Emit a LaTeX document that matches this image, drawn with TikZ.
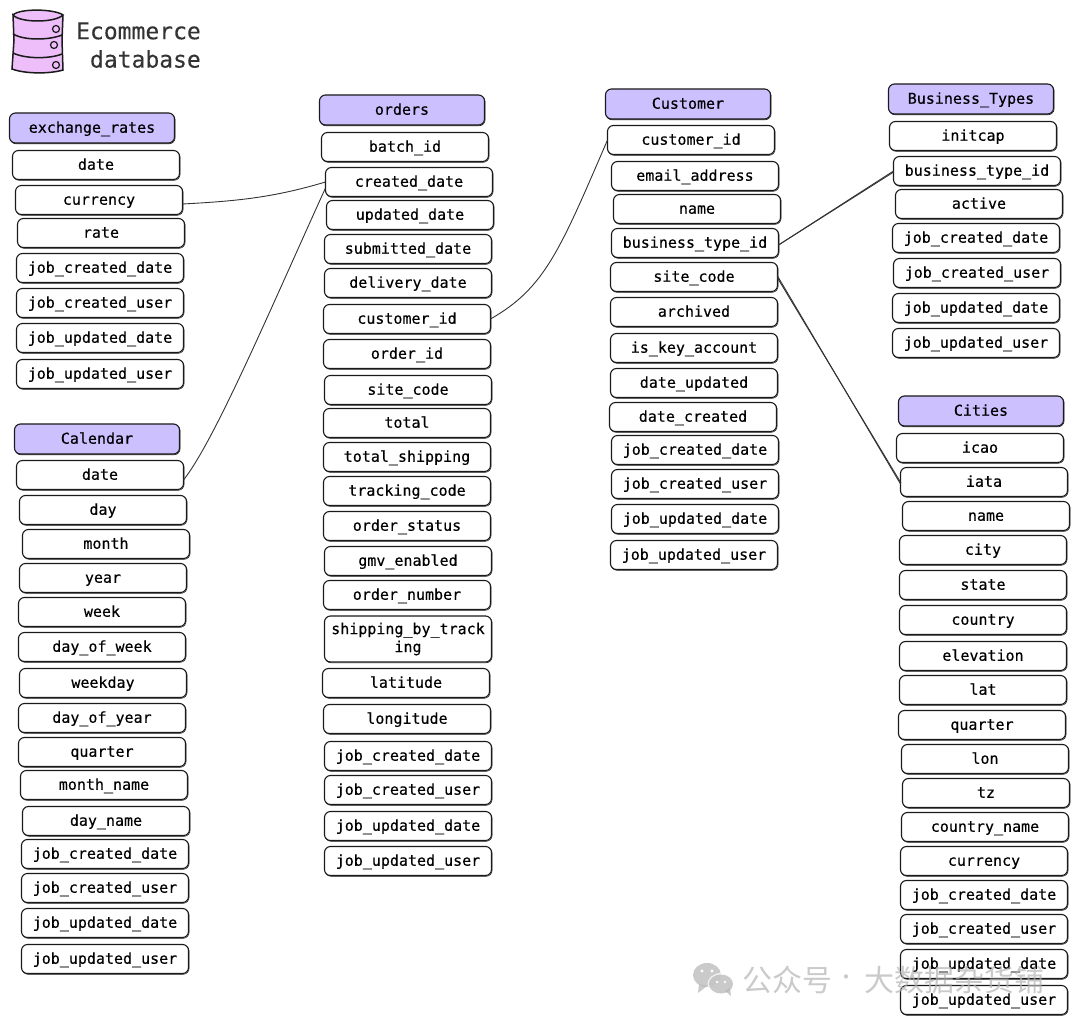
\documentclass[tikz,border=0pt]{standalone}
\usepackage{fontspec}
\setmonofont{DejaVu Sans Mono}
\newfontfamily\rowfont[FakeBold=0.35]{DejaVu Sans Mono}
\newfontfamily\titlefont[FakeBold=0.25]{DejaVu Sans Mono}
\newfontfamily\cjkwm{Noto Sans CJK SC}
\definecolor{hdrfill}{HTML}{CDC0FF}
\definecolor{dbfill}{HTML}{EDBEFA}
\definecolor{inkc}{HTML}{1A1A1A}
\definecolor{linkc}{HTML}{333333}
\definecolor{wmc}{HTML}{B4B4B4}
\tikzset{
  sketch/.style={draw=inkc,line width=1.1pt,rounded corners=6pt,
    preaction={draw=inkc,line width=.6pt,transform canvas={shift={(.6pt,-.8pt)}}}},
  row/.style={sketch,fill=white,minimum width=167pt,minimum height=29pt,inner sep=0pt,outer sep=0pt,
    align=center,text=black,text height=11.5pt,text depth=2pt,font=\rowfont\fontsize{15}{18}\selectfont},
  tallrow/.style={row,minimum height=46pt,text height=,text depth=},
  hdr/.style={row,fill=hdrfill,minimum width=165pt,minimum height=30pt},
  titletext/.style={inner sep=0pt,text=linkc,anchor=east,font=\titlefont\fontsize{23}{28}\selectfont},
  link/.style={draw=linkc,line width=.9pt},
  dbline/.style={draw=inkc,line width=1.5pt},
  wm/.style={inner sep=0pt,text=wmc,text opacity=.7,font=\cjkwm\fontsize{30}{34}\selectfont}
}
\begin{document}
\begin{tikzpicture}[x=1pt,y=-1pt]
\useasboundingbox (0,0) rectangle (1080,1024);
% database icon
\path[fill=dbfill] (13,16) .. controls (20,9) and (55,9) .. (62,16) -- (62,70) .. controls (50,74) and (25,74) .. (13,69) -- cycle;
\draw[dbline] (13,15) .. controls (20,8) and (55,9) .. (63,15) .. controls (55,23) and (20,23) .. (13,15) -- (14,40) -- (12,69) .. controls (25,74) and (50,74) .. (63,70) -- (62,40) -- (63,15);
\draw[dbline] (13,34) .. controls (25,41) and (50,40) .. (62,35);
\draw[dbline] (13,53) .. controls (25,59) and (50,59) .. (62,54);
\draw[draw=inkc,line width=1.2pt] (56,29) circle (3.5) (54,45) circle (3.5) (56,65) circle (3.5);
\node[titletext] (title1) at (201,31) {Ecommerce};
\node[titletext] (title2) at (201,59) {database};
% exchange_rates
\node[hdr] (erh) at (92,128) {exchange\_rates};
\node[row] (er1) at (96,165) {date};
\node[row] (er2) at (99,200) {currency};
\node[row] (er3) at (101,233) {rate};
\node[row] (er4) at (100,268) {job\_created\_date};
\node[row] (er5) at (100,303) {job\_created\_user};
\node[row] (er6) at (100,338) {job\_updated\_date};
\node[row] (er7) at (100,374) {job\_updated\_user};
% Calendar
\node[hdr] (calh) at (97,439) {Calendar};
\node[row] (cal1) at (100,475) {date};
\node[row] (cal2) at (103,510) {day};
\node[row] (cal3) at (106,544) {month};
\node[row] (cal4) at (103,578) {year};
\node[row] (cal5) at (102,612) {week};
\node[row] (cal6) at (102,647) {day\_of\_week};
\node[row] (cal7) at (103,683) {weekday};
\node[row] (cal8) at (102,718) {day\_of\_year};
\node[row] (cal9) at (102,752) {quarter};
\node[row] (cal10) at (104,785) {month\_name};
\node[row] (cal11) at (106,821) {day\_name};
\node[row] (cal12) at (105,854) {job\_created\_date};
\node[row] (cal13) at (105,888) {job\_created\_user};
\node[row] (cal14) at (105,923) {job\_updated\_date};
\node[row] (cal15) at (105,959) {job\_updated\_user};
% orders
\node[hdr] (oh) at (402,110) {orders};
\node[row] (o1) at (405,147) {batch\_id};
\node[row] (o2) at (409,182) {created\_date};
\node[row] (o3) at (410,215) {updated\_date};
\node[row] (o4) at (408,249) {submitted\_date};
\node[row] (o5) at (408,283) {delivery\_date};
\node[row] (o6) at (407,319) {customer\_id};
\node[row] (o7) at (407,354) {order\_id};
\node[row] (o8) at (408,390) {site\_code};
\node[row] (o9) at (407,423) {total};
\node[row] (o10) at (407,457) {total\_shipping};
\node[row] (o11) at (407,491) {tracking\_code};
\node[row] (o12) at (407,526) {order\_status};
\node[row] (o13) at (408,561) {gmv\_enabled};
\node[row] (o14) at (407,595) {order\_number};
\node[tallrow] (o15) at (408,639) {shipping\_by\_track\\ing};
\node[row] (o16) at (406,683) {latitude};
\node[row] (o17) at (407,719) {longitude};
\node[row] (o18) at (408,756) {job\_created\_date};
\node[row] (o19) at (408,790) {job\_created\_user};
\node[row] (o20) at (408,826) {job\_updated\_date};
\node[row] (o21) at (408,861) {job\_updated\_user};
% Customer
\node[hdr] (ch) at (688,104) {Customer};
\node[row] (c1) at (691,140) {customer\_id};
\node[row] (c2) at (695,176) {email\_address};
\node[row] (c3) at (697,209) {name};
\node[row] (c4) at (695,243) {business\_type\_id};
\node[row] (c5) at (694,277) {site\_code};
\node[row] (c6) at (694,312) {archived};
\node[row] (c7) at (694,348) {is\_key\_account};
\node[row] (c8) at (694,383) {date\_updated};
\node[row] (c9) at (693,417) {date\_created};
\node[row] (c10) at (695,450) {job\_created\_date};
\node[row] (c11) at (695,484) {job\_created\_user};
\node[row] (c12) at (695,519) {job\_updated\_date};
\node[row] (c13) at (694,555) {job\_updated\_user};
% Business_Types
\node[hdr] (bh) at (971,99) {Business\_Types};
\node[row] (b1) at (973,136) {initcap};
\node[row] (b2) at (977,171) {business\_type\_id};
\node[row] (b3) at (979,204) {active};
\node[row] (b4) at (976,238) {job\_created\_date};
\node[row] (b5) at (977,273) {job\_created\_user};
\node[row] (b6) at (976,308) {job\_updated\_date};
\node[row] (b7) at (976,343) {job\_updated\_user};
% Cities
\node[hdr] (th) at (981,411) {Cities};
\node[row] (t1) at (980,448) {icao};
\node[row] (t2) at (984,482) {iata};
\node[row] (t3) at (986,516) {name};
\node[row] (t4) at (983,550) {city};
\node[row] (t5) at (983,585) {state};
\node[row] (t6) at (983,620) {country};
\node[row] (t7) at (983,656) {elevation};
\node[row] (t8) at (983,690) {lat};
\node[row] (t9) at (982,725) {quarter};
\node[row] (t10) at (985,759) {lon};
\node[row] (t11) at (986,793) {tz};
\node[row] (t12) at (985,827) {country\_name};
\node[row] (t13) at (984,861) {currency};
\node[row] (t14) at (984,895) {job\_created\_date};
\node[row] (t15) at (984,929) {job\_created\_user};
\node[row] (t16) at (984,964) {job\_updated\_date};
\node[row] (t17) at (984,1000) {job\_updated\_user};
% connectors
\draw[link] ([yshift=-4pt]er2.east) .. controls (240,201) and (275,197) .. (o2.west);
\draw[link] ([yshift=-5pt]cal1.east) .. controls (215,440) and (270,310) .. ([yshift=-6pt]o2.west);
\draw[link] (o6.east) .. controls (545,288) and (560,250) .. (c1.west);
\draw[link] ([yshift=-2pt]c4.east) -- (b2.west);
\draw[link] ([yshift=-2pt]c4.east) -- ([xshift=.5pt,yshift=-.8pt]b2.west);
\draw[link] ([yshift=1pt]c5.east) -- ([yshift=-2pt]t2.west);
\draw[link] ([yshift=-1pt]c5.east) -- ([xshift=.5pt,yshift=-1pt]t2.west);
% watermark
\begin{scope}[opacity=.7]
\fill[wmc] (707,975) ellipse (14 and 12);
\fill[wmc] (699,984) -- (698,993) -- (707,986) -- cycle;
\fill[white] (721,984) ellipse (13.5 and 11);
\fill[wmc] (721,984) ellipse (12 and 9.5);
\fill[wmc] (725,991) -- (731,996) -- (730,988) -- cycle;
\end{scope}
\fill[white] (702,971) circle (1.7) (712,971) circle (1.7) (717,982) circle (1.4) (725,982) circle (1.4);
\node[wm,anchor=west] (wm1) at (742,980) {公众号};
\node[wm,font=\cjkwm\fontsize{20}{24}\selectfont] (wm2) at (846,980) {·};
\node[wm,anchor=west] (wm3) at (864,980) {大数据杂货铺};
\end{tikzpicture}
\end{document}
